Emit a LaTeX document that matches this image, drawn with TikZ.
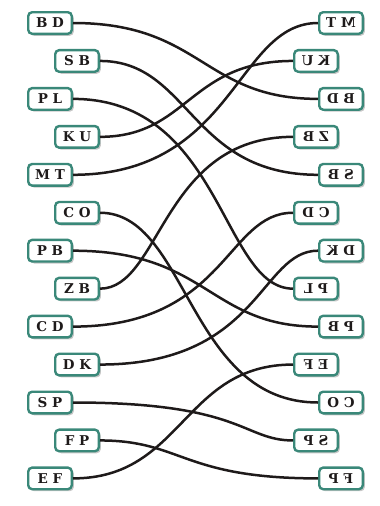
\documentclass[tikz,border=0pt]{standalone}
\usepackage{fontspec}
\usepackage{graphicx}
\setmainfont{DejaVu Serif}
\usetikzlibrary{shadows}
\definecolor{boxteal}{RGB}{58,136,121}
\definecolor{ink}{RGB}{30,26,26}
\begin{document}
\begin{tikzpicture}[x=1pt,y=-1pt,
  lab/.style={draw=boxteal, line width=2.4pt, fill=white, rounded corners=4pt,
    minimum width=43.6pt, minimum height=21.6pt, inner sep=0pt,
    font=\bfseries\fontsize{13.5}{15}\selectfont, text=ink,
    drop shadow={shadow xshift=2pt, shadow yshift=-2pt, fill=black, opacity=0.22}},
  wire/.style={draw=ink, line width=2.5pt}]
\useasboundingbox (0,0) rectangle (380,506);
% left column
\node[lab] (lBD) at (50,23) {B D};
\node[lab] (lSB) at (77,60.95) {S B};
\node[lab] (lPL) at (50,98.9) {P L};
\node[lab] (lKU) at (77,136.85) {K U};
\node[lab] (lMT) at (50,174.8) {M T};
\node[lab] (lCO) at (77,212.75) {C O};
\node[lab] (lPB) at (50,250.7) {P B};
\node[lab] (lZB) at (77,288.65) {Z B};
\node[lab] (lCD) at (50,326.6) {C D};
\node[lab] (lDK) at (77,364.55) {D K};
\node[lab] (lSP) at (50,402.5) {S P};
\node[lab] (lFP) at (77,440.45) {F P};
\node[lab] (lEF) at (50,478.4) {E F};
% right column (mirrored)
\node[lab] (rMT) at (341,23) {\reflectbox{M T}};
\node[lab] (rKU) at (316,60.95) {\reflectbox{K U}};
\node[lab] (rBD) at (341,98.9) {\reflectbox{B D}};
\node[lab] (rZB) at (316,136.85) {\reflectbox{Z B}};
\node[lab] (rSB) at (341,174.8) {\reflectbox{S B}};
\node[lab] (rCD) at (316,212.75) {\reflectbox{C D}};
\node[lab] (rDK) at (341,250.7) {\reflectbox{D K}};
\node[lab] (rPL) at (316,288.65) {\reflectbox{P L}};
\node[lab] (rPB) at (341,326.6) {\reflectbox{P B}};
\node[lab] (rEF) at (316,364.55) {\reflectbox{E F}};
\node[lab] (rCO) at (341,402.5) {\reflectbox{C O}};
\node[lab] (rSP) at (316,440.45) {\reflectbox{S P}};
\node[lab] (rFP) at (341,478.4) {\reflectbox{F P}};
% connectors
\draw[wire] (lBD.east) .. controls +(129,0) and +(-115,0) .. (rBD.west);
\draw[wire] (lSB.east) .. controls +(90,0) and +(-128,0) .. (rSB.west);
\draw[wire] (lPL.east) .. controls +(149,0) and +(-71,0) .. (rPL.west);
\draw[wire] (lKU.east) .. controls +(88,0) and +(-104,0) .. (rKU.west);
\draw[wire] (lMT.east) .. controls +(162,0) and +(-82,0) .. (rMT.west);
\draw[wire] (lCO.east) .. controls +(88,0) and +(-130,0) .. (rCO.west);
\draw[wire] (lPB.east) .. controls +(135,0) and +(-109,0) .. (rPB.west);
\draw[wire] (lZB.east) .. controls +(61,0) and +(-131,0) .. (rZB.west);
\draw[wire] (lCD.east) .. controls +(153,0) and +(-67,0) .. (rCD.west);
\draw[wire] (lDK.east) .. controls +(160,0) and +(-58,0) .. (rDK.west);
\draw[wire] (lSP.east) .. controls +(170,0) and +(-50,0) .. (rSP.west);
\draw[wire] (lFP.east) .. controls +(82,0) and +(-136,0) .. (rFP.west);
\draw[wire] (lEF.east) .. controls +(110,0) and +(-110,0) .. (rEF.west);
\end{tikzpicture}
\end{document}
